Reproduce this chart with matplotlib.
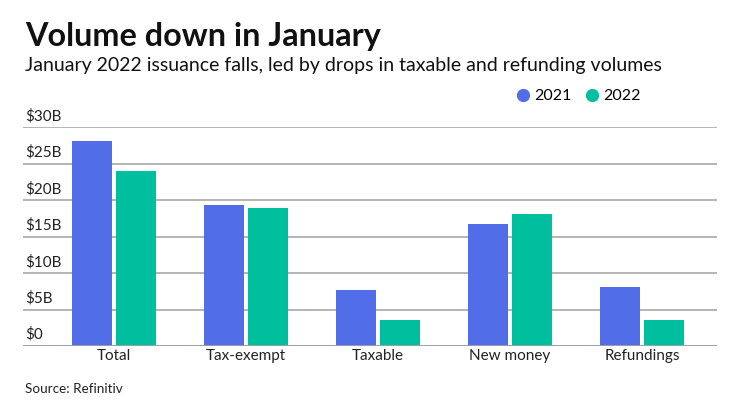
import numpy as np
import matplotlib
matplotlib.use("Agg")
import matplotlib.pyplot as plt
import matplotlib.transforms as mtransforms

plt.rcParams['font.family'] = ['Lato', 'DejaVu Sans']

categories = ['Total', 'Tax-exempt', 'Taxable', 'New money', 'Refundings']
vals_2021 = [28.1, 19.3, 7.7, 16.7, 8.1]
vals_2022 = [24.0, 18.9, 3.5, 18.1, 3.5]
yticks = [0, 5, 10, 15, 20, 25, 30]
ytick_labels = ['$0', '$5B', '$10B', '$15B', '$20B', '$25B', '$30B']

blue = '#516ee8'
teal = '#00bf9e'

fig = plt.figure(figsize=(7.4, 4.16), dpi=100)
ax = fig.add_axes([23/740, 1-346/416, (717-23)/740, (346-127.3)/416])

x = np.arange(len(categories))
off = 0.1667
w = 0.298
ax.bar(x - off, vals_2021, w, color=blue, zorder=3, label='2021')
ax.bar(x + off, vals_2022, w, color=teal, zorder=3, label='2022')

ax.set_xlim(-0.689, 4.568)
ax.set_ylim(0, 30)
for s in ax.spines.values():
    s.set_visible(False)
ax.set_yticks(yticks)
ax.set_yticklabels([])
ax.tick_params(axis='y', length=0)
ax.grid(axis='y', color='#a0a0a0', linewidth=1.1, zorder=0)
ax.axhline(0, color='#a0a0a0', linewidth=1.3, zorder=4)

# y labels sit above the gridlines
trans = mtransforms.blended_transform_factory(ax.transAxes, ax.transData)
for v, lab in zip(yticks, ytick_labels):
    ax.text(0.003, v + 0.55, lab, transform=trans, ha='left', va='bottom',
            fontsize=11, color='#222222')

ax.set_xticks(x)
ax.set_xticklabels(categories, fontsize=11, color='#222222')
ax.tick_params(axis='x', length=0, pad=2)

fig.text(25/740, 1-46/416, 'Volume down in January', fontsize=23.3, fontweight='bold',
         ha='left', va='baseline', color='#111111')
fig.text(25/740, 1-71/416, 'January 2022 issuance falls, led by drops in taxable and refunding volumes',
         fontsize=14, ha='left', va='baseline', color='#111111')
fig.text(25/740, 1-393/416, 'Source: Refinitiv', fontsize=9.7, ha='left', va='baseline',
         color='#222222')

# legend
fig.legend(handles=[plt.Line2D([], [], marker='o', ls='', color=blue, markersize=8.5),
                    plt.Line2D([], [], marker='o', ls='', color=teal, markersize=8.5)],
           labels=['2021', '2022'], loc='center left', bbox_to_anchor=(499/740, 1-96/416),
           ncol=2, frameon=False, fontsize=11.5, handletextpad=0.1, columnspacing=0.7,
           handlelength=1.2)

fig.savefig('out.png', dpi=100)
